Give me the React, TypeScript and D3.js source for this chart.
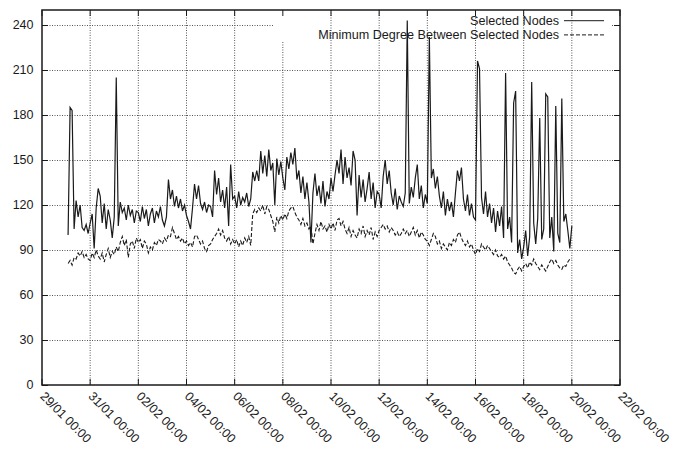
import React from "react";
import * as d3 from "d3";

// Canvas
const WIDTH = 681;
const HEIGHT = 453;
const MARGIN = { left: 42, right: 61, top: 10, bottom: 68 };

// Axis ticks
const xTickLabels = [
  "29/01 00:00", "31/01 00:00", "02/02 00:00", "04/02 00:00", "06/02 00:00",
  "08/02 00:00", "10/02 00:00", "12/02 00:00", "14/02 00:00", "16/02 00:00",
  "18/02 00:00", "20/02 00:00", "22/02 00:00",
];
const yTicks = [0, 30, 60, 90, 120, 150, 180, 210, 240];
const yMax = 250;

// Sampling of both series: every 2 hours from this timestamp
const seriesStart = "30/01 02:00";
const stepHours = 2;

// Number of selected nodes (one row per day)
const selectedNodes = [
  100, 185, 183, 104, 123, 112, 120, 105, 103, 107, 101,
  108, 114, 91, 118, 131, 126, 108, 121, 104, 117, 110, 98,
  112, 205, 106, 122, 115, 118, 110, 120, 113, 117, 108, 116,
  115, 109, 119, 111, 117, 106, 114, 118, 108, 116, 112, 119,
  110, 106, 112, 137, 124, 130, 119, 126, 118, 124, 116, 120,
  113, 109, 104, 118, 134, 124, 133, 121, 117, 122, 115, 120,
  119, 112, 143, 127, 138, 122, 130, 118, 132, 106, 147, 124,
  126, 118, 129, 120, 125, 122, 128, 119, 124, 142, 136, 143,
  136, 156, 141, 153, 139, 157, 143, 148, 120, 151, 140, 149,
  138, 130, 152, 144, 155, 147, 158, 137, 143, 128, 139, 124,
  135, 122, 95, 128, 141, 126, 133, 121, 136, 119, 129, 124,
  138, 129, 140, 150, 141, 157, 134, 152, 138, 145, 133, 156,
  150, 113, 140, 125, 137, 122, 131, 142, 124, 135, 118, 129,
  127, 118, 139, 150, 134, 143, 128, 120, 131, 117, 126, 122,
  119, 128, 243, 121, 132, 125, 138, 147, 124, 133, 118, 127,
  121, 232, 138, 144, 131, 139, 126, 118, 129, 113, 124, 116,
  122, 112, 128, 143, 136, 145, 124, 116, 127, 113, 121, 112,
  110, 216, 211, 125, 114, 129, 112, 121, 108, 118, 102, 116,
  106, 119, 98, 208, 104, 112, 95, 188, 196, 88, 97, 84,
  92, 103, 86, 99, 202, 108, 94, 111, 178, 97, 104, 194,
  192, 98, 112, 89, 186, 101, 95, 191, 109, 114, 103, 91,
  106,
];

// Minimum degree between the selected nodes (one row per day)
const minDegree = [
  81, 83, 80, 85, 84, 88, 86, 89, 85, 87, 84,
  83, 88, 85, 90, 86, 84, 88, 82, 87, 91, 85, 89,
  87, 92, 89, 95, 99, 93, 97, 85, 94, 96, 91, 98,
  95, 97, 91, 96, 94, 88, 92, 90, 95, 93, 97, 96,
  94, 98, 96, 100, 99, 105, 101, 97, 99, 96, 98, 94,
  96, 93, 95, 92, 99, 100, 97, 94, 96, 91, 89, 93,
  94, 97, 99, 101, 104, 100, 103, 98, 96, 99, 94, 97,
  94, 97, 92, 96, 93, 98, 95, 99, 93, 114, 117, 115,
  118, 116, 120, 114, 119, 117, 113, 109, 102, 112, 108, 113,
  110, 114, 111, 116, 118, 119, 115, 112, 110, 107, 111, 106,
  108, 104, 106, 94, 101, 107, 103, 109, 104, 106, 102, 107,
  104, 108, 103, 110, 111, 106, 109, 104, 101, 105, 99, 103,
  100, 98, 104, 101, 106, 99, 103, 100, 105, 97, 102, 99,
  103, 105, 107, 104, 106, 102, 105, 103, 100, 102, 99, 101,
  104, 101, 103, 99, 102, 105, 100, 103, 98, 102, 100, 97,
  96, 93, 97, 101, 99, 94, 96, 91, 94, 92, 90, 95,
  93, 97, 95, 100, 102, 98, 95, 93, 96, 92, 94, 90,
  87, 91, 89, 94, 92, 90, 93, 91, 89, 87, 90, 86,
  85, 87, 84, 86, 82, 80, 78, 75, 74, 77, 79, 76,
  79, 81, 78, 82, 80, 84, 81, 79, 77, 80, 78, 76,
  79, 82, 84, 81, 83, 80, 78, 77, 80, 79, 82, 84,
  84,
];

const legendLabels = ["Selected Nodes", "Minimum Degree Between Selected Nodes"];

const FONT = "'Liberation Sans', Arial, Helvetica, sans-serif";
const INK = "#1a1a1a";
const GRID = "#555";

// Area reserved by the key: grid lines are interrupted there
const KEY_BOX = { x0: 273, x1: 612, bottom: 42, vx1: 300 };

export default function App() {
  const parse = d3.utcParse("%d/%m %H:%M");
  const tickDates = xTickLabels.map((s) => parse(s) as Date);
  const t0 = parse(seriesStart) as Date;

  const x = d3
    .scaleUtc()
    .domain([tickDates[0], tickDates[tickDates.length - 1]])
    .range([MARGIN.left, WIDTH - MARGIN.right]);
  const y = d3
    .scaleLinear()
    .domain([0, yMax])
    .range([HEIGHT - MARGIN.bottom, MARGIN.top]);

  const [xl, xr] = x.range();
  const [yb, yt] = y.range();

  const timeAt = (i: number) => d3.utcHour.offset(t0, i * stepHours);
  const line = d3
    .line<number>()
    .x((_, i) => x(timeAt(i)))
    .y((v) => y(v));

  const tickLen = 6;

  // Horizontal grid segments
  const hGrid: [number, number, number][] = [];
  yTicks.forEach((v) => {
    if (v === 0) return;
    const yy = y(v);
    if (yy < KEY_BOX.bottom) {
      hGrid.push([xl, KEY_BOX.x0, yy]);
      hGrid.push([KEY_BOX.x1, xr, yy]);
    } else {
      hGrid.push([xl, xr, yy]);
    }
  });

  // Vertical grid segments
  const vGrid: [number, number, number][] = [];
  tickDates.forEach((d, i) => {
    if (i === 0 || i === tickDates.length - 1) return;
    const xx = x(d);
    const top = xx > KEY_BOX.x0 && xx < KEY_BOX.vx1 ? KEY_BOX.bottom : yt;
    vGrid.push([xx, top, yb]);
  });

  const legendX = 559;
  const sampleX0 = 564;
  const sampleX1 = 604;
  const legendRows = [
    { label: legendLabels[0], y: 25, dash: undefined as string | undefined },
    { label: legendLabels[1], y: 39.2, dash: "4,2" },
  ];

  return (
    <svg
      width={WIDTH}
      height={HEIGHT}
      style={{ position: "absolute", left: 0, top: 0, display: "block" }}
      fontFamily={FONT}
    >
      <rect x={0} y={0} width={WIDTH} height={HEIGHT} fill="#fff" />

      {/* grid */}
      <g stroke={GRID} strokeWidth={1} strokeDasharray="1,1.5" fill="none">
        {hGrid.map(([a, b, yy], i) => (
          <line key={`h${i}`} x1={a} x2={b} y1={yy + 0.5} y2={yy + 0.5} />
        ))}
        {vGrid.map(([xx, a, b], i) => (
          <line key={`v${i}`} x1={xx} x2={xx} y1={a} y2={b} />
        ))}
      </g>

      {/* tick marks on all four sides */}
      <g stroke={INK} strokeWidth={1}>
        {yTicks.map((v) => (
          <g key={`yt${v}`}>
            <line x1={xl} x2={xl + tickLen} y1={y(v) + 0.5} y2={y(v) + 0.5} />
            <line x1={xr - tickLen} x2={xr} y1={y(v) + 0.5} y2={y(v) + 0.5} />
          </g>
        ))}
        {tickDates.map((d, i) => (
          <g key={`xt${i}`}>
            <line x1={x(d)} x2={x(d)} y1={yb} y2={yb - tickLen} />
            <line x1={x(d)} x2={x(d)} y1={yt} y2={yt + tickLen} />
          </g>
        ))}
      </g>

      {/* series */}
      <path
        d={line(minDegree) || ""}
        fill="none"
        stroke={INK}
        strokeWidth={1.1}
        strokeDasharray="4,2"
      />
      <path d={line(selectedNodes) || ""} fill="none" stroke={INK} strokeWidth={1.2} />

      {/* frame */}
      <rect
        x={xl}
        y={yt}
        width={xr - xl}
        height={yb - yt}
        fill="none"
        stroke={INK}
        strokeWidth={1.5}
      />

      {/* y tick labels */}
      <g fontSize={12.5} fill={INK} textAnchor="end">
        {yTicks.map((v) => (
          <text key={`yl${v}`} x={xl - 8.5} y={y(v)} dy="0.35em">
            {v}
          </text>
        ))}
      </g>

      {/* x tick labels, rotated */}
      <g fontSize={12.5} fill={INK}>
        {tickDates.map((d, i) => (
          <text
            key={`xl${i}`}
            transform={`translate(${x(d) - 2.5},${yb + 12}) rotate(45)`}
            textAnchor="start"
          >
            {xTickLabels[i]}
          </text>
        ))}
      </g>

      {/* key */}
      <g fontSize={12.6} fill={INK}>
        {legendRows.map((r, i) => (
          <g key={`k${i}`}>
            <text x={legendX} y={r.y} textAnchor="end">
              {r.label}
            </text>
            <line
              x1={sampleX0}
              x2={sampleX1}
              y1={r.y - 4.3}
              y2={r.y - 4.3}
              stroke={INK}
              strokeWidth={1}
              strokeDasharray={r.dash}
            />
          </g>
        ))}
      </g>
    </svg>
  );
}
